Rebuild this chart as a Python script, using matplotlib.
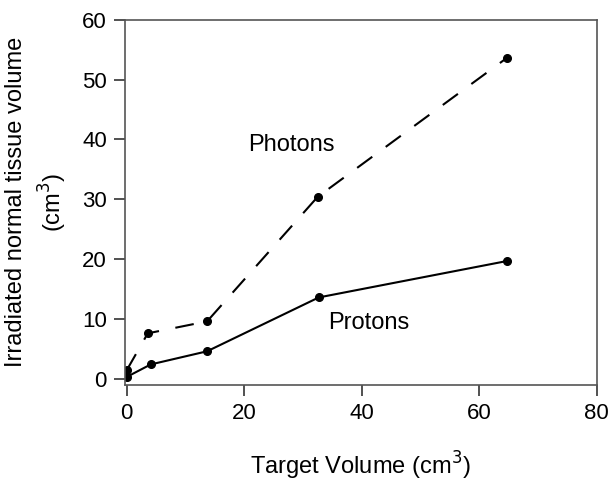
import matplotlib
matplotlib.use("Agg")
import matplotlib.pyplot as plt

plt.rcParams['font.family'] = ['Liberation Sans', 'DejaVu Sans']

photon_x = [0, 3.6, 13.7, 32.5, 64.8]
photon_y = [1.4, 7.6, 9.6, 30.4, 53.7]
proton_x = [0, 4.1, 13.7, 32.7, 64.8]
proton_y = [0.3, 2.4, 4.6, 13.6, 19.7]
xticks = [0, 20, 40, 60, 80]
yticks = [0, 10, 20, 30, 40, 50, 60]

fig = plt.figure(figsize=(6.12, 4.84), dpi=100)
ax = fig.add_axes([0.204, 0.205, 0.771, 0.754])

ax.plot(photon_x, photon_y, color='black', lw=1.5, dashes=(9, 8),
        marker='o', markersize=5.5)
ax.plot(proton_x, proton_y, color='black', lw=1.5, marker='o', markersize=5.5)

ax.text(28.1, 39, 'Photons', fontsize=17, ha='center', va='center')
ax.text(41.2, 9.4, 'Protons', fontsize=17, ha='center', va='center')

ax.set_xlim(-0.3, 80)
ax.set_ylim(-1, 60)
ax.set_xticks(xticks)
ax.set_yticks(yticks)
ax.tick_params(direction='out', length=8, width=1.2, labelsize=16, pad=5, color='#333333')
for s in ax.spines.values():
    s.set_color('#555555')
    s.set_linewidth(1.2)

ax.set_xlabel('Target Volume (cm$^3$)', fontsize=17, labelpad=19)
ax.set_ylabel('Irradiated normal tissue volume\n(cm$^3$)', fontsize=17,
              linespacing=1.4)
ax.yaxis.set_label_coords(-0.118, 0.5)

fig.savefig('out.png', dpi=100)
